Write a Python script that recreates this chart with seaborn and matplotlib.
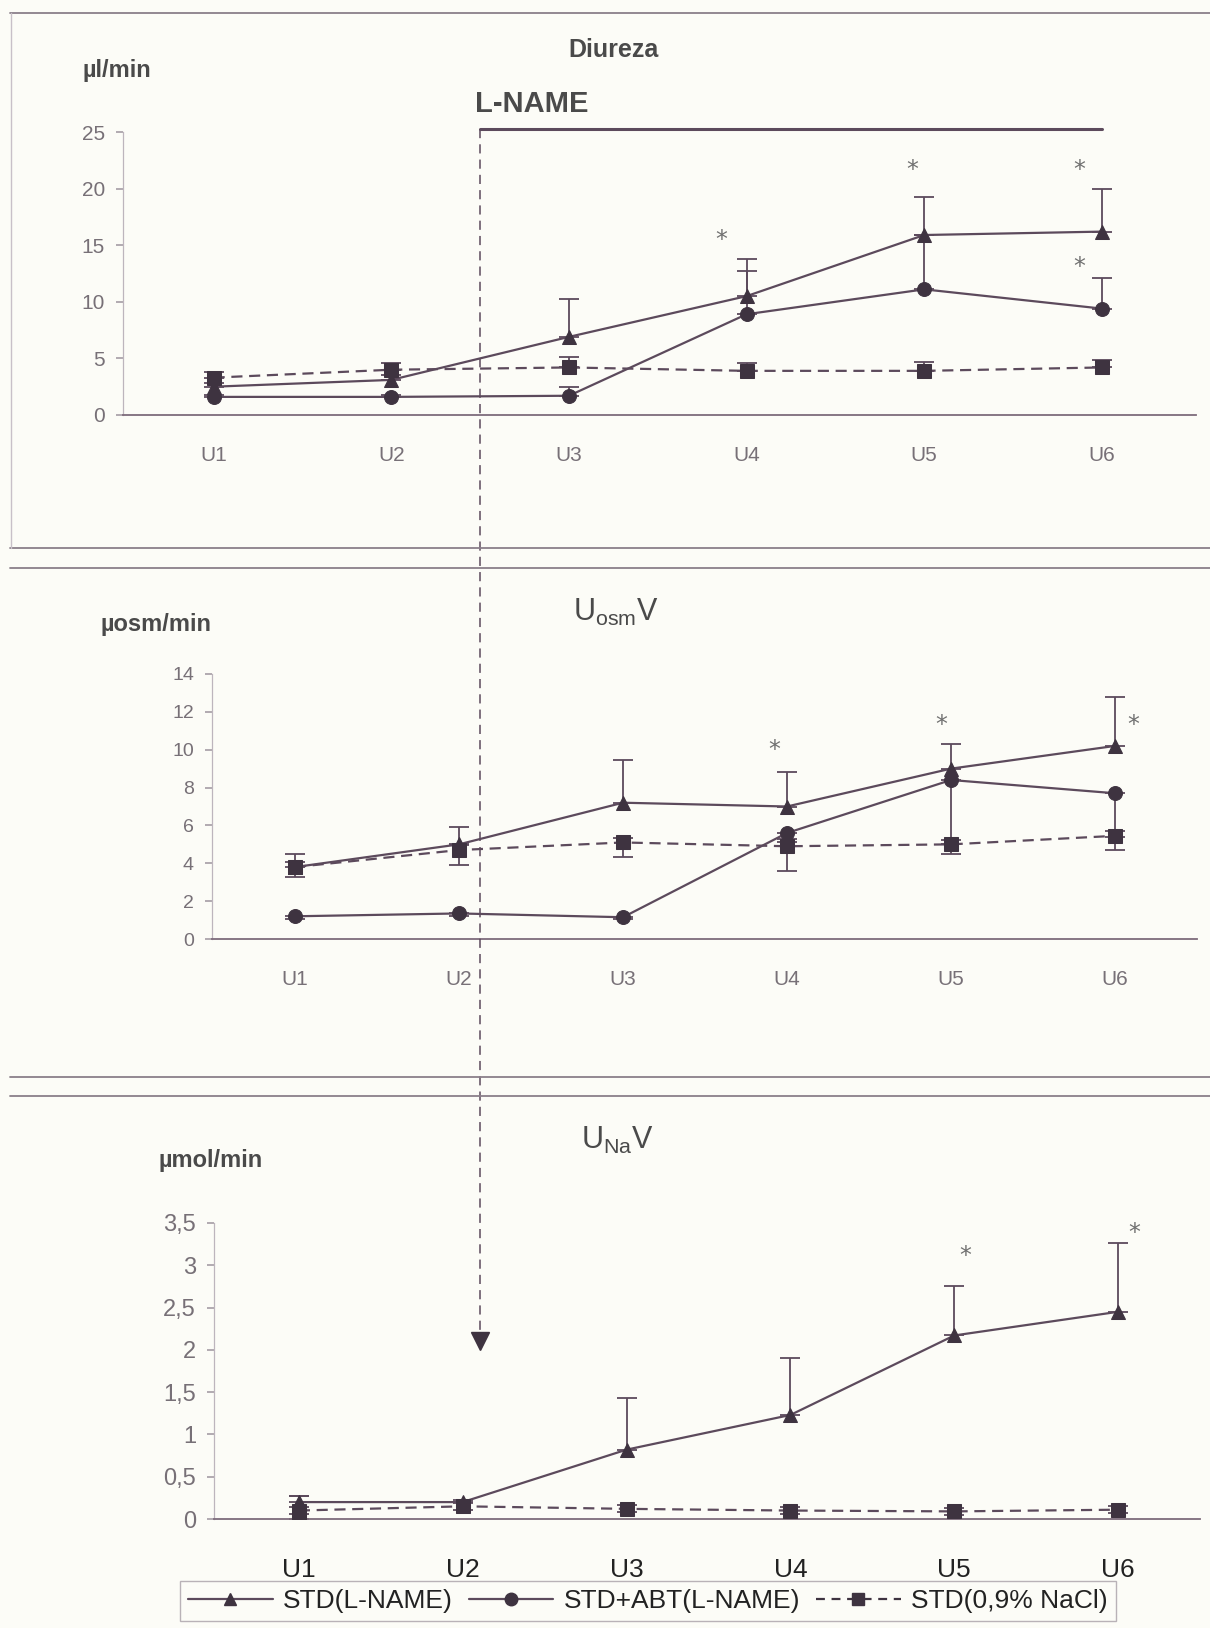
import numpy as np
import pandas as pd
import matplotlib
matplotlib.use("Agg")
import matplotlib.pyplot as plt
from matplotlib.lines import Line2D
import seaborn as sns

# ---------------- data ----------------
categories = ["U1", "U2", "U3", "U4", "U5", "U6"]
series_names = ["STD(L-NAME)", "STD+ABT(L-NAME)", "STD(0,9% NaCl)"]

# Diureza (µl/min)
diu_tri = [2.5, 3.1, 6.9, 10.5, 15.9, 16.2]
diu_tri_up = [0.3, 0.4, 3.35, 3.3, 3.4, 3.8]
diu_circ = [1.6, 1.6, 1.7, 8.9, 11.1, 9.4]
diu_circ_up = [0.2, 0.2, 0.8, 3.8, 4.8, 2.7]
diu_sq = [3.3, 4.0, 4.2, 3.9, 3.9, 4.2]
diu_sq_up = [0.5, 0.6, 0.9, 0.7, 0.8, 0.7]

# UosmV (µosm/min)
osm_tri = [3.8, 5.0, 7.2, 7.0, 9.0, 10.2]
osm_tri_up = [0.7, 0.9, 2.25, 1.8, 1.3, 2.6]
osm_circ = [1.2, 1.35, 1.15, 5.6, 8.4, 7.7]
osm_circ_lo = [0.15, 0.15, 0.1, 0.3, 3.4, 2.3]
osm_sq = [3.8, 4.7, 5.1, 4.9, 5.0, 5.45]
osm_sq_lo = [0.5, 0.8, 0.75, 1.3, 0.5, 0.75]

# UNaV (µmol/min)
na_tri = [0.2, 0.2, 0.82, 1.23, 2.17, 2.45]
na_tri_up = [0.07, 0.02, 0.61, 0.67, 0.58, 0.81]
na_circ = [0.0, np.nan, np.nan, np.nan, np.nan, np.nan]
na_circ_up = [0.27, 0, 0, 0, 0, 0]
na_sq = [0.1, 0.15, 0.12, 0.1, 0.09, 0.11]
na_sq_up = [0.04, 0.04, 0.04, 0.04, 0.04, 0.04]

# significance marks (x position in category units, y value)
diu_star_x = [2.86, 3.93, 4.87, 4.87]
diu_star_y = [15.5, 21.6, 21.6, 13.1]
osm_star_x = [2.92, 3.94, 5.11]
osm_star_y = [10.0, 11.3, 11.3]
na_star_x = [4.07, 5.10]
na_star_y = [3.11, 3.38]

# ---------------- style ----------------
sns.set_theme(style="white")
plt.rcParams["font.family"] = ["Liberation Sans Narrow", "Liberation Sans", "DejaVu Sans"]
plt.rcParams["mathtext.fontset"] = "custom"
plt.rcParams["mathtext.rm"] = "Liberation Sans"
plt.rcParams["mathtext.it"] = "Liberation Sans"

BG = "#fcfcf7"
LINE = "#5c4a5c"
MARK = "#3e3340"
TICK = "#777077"
TXT = "#4a4a4a"

W, H = 1210, 1628
fig = plt.figure(figsize=(W / 100, H / 100), dpi=100, facecolor=BG)


def fr(x0, y0, x1, y1):
    return [x0 / W, 1 - y1 / H, (x1 - x0) / W, (y1 - y0) / H]


ax1 = fig.add_axes(fr(123, 132, 1196, 415))
ax2 = fig.add_axes(fr(212, 674, 1197, 939))
ax3 = fig.add_axes(fr(214, 1223, 1200, 1519))

palette = {n: LINE for n in series_names}
markers = {series_names[0]: "^", series_names[1]: "o", series_names[2]: "s"}
dashes = {series_names[0]: "", series_names[1]: "", series_names[2]: (5, 3)}


def panel(ax, tri, circ, sq, errs, xlim, ylim, yticks, ylabels, tsize, xsize, xcol, stars):
    xs = np.arange(len(categories))
    df = pd.DataFrame({
        "x": np.tile(xs, 3),
        "val": list(tri) + list(circ) + list(sq),
        "grp": np.repeat(series_names, len(categories)),
    })
    for vals, lo, up in errs:
        ax.errorbar(xs, vals, yerr=[lo, up], fmt="none", ecolor=LINE,
                    elinewidth=1.3, capsize=7, capthick=1.3, zorder=2)
    sns.lineplot(data=df, x="x", y="val", hue="grp", style="grp",
                 palette=palette, markers=markers, dashes=dashes,
                 markersize=10, linewidth=1.6, markeredgecolor=MARK,
                 markerfacecolor=MARK, legend=False, ax=ax, zorder=3)
    ax.set_xlim(*xlim)
    ax.set_ylim(*ylim)
    ax.set_facecolor("none")
    ax.set_xlabel("")
    ax.set_ylabel("")
    ax.set_xticks(xs)
    ax.set_xticklabels(categories, fontsize=xsize, color=xcol)
    ax.set_xticks(np.arange(-0.5, 5.6, 1.0), minor=True)
    ax.set_yticks(yticks)
    ax.set_yticklabels(ylabels, fontsize=tsize, color=TICK)
    ax.tick_params(axis="x", which="major", length=0, pad=22)
    ax.tick_params(axis="x", which="minor", length=5, color="#b0a8b0", direction="out")
    ax.tick_params(axis="y", length=5, color="#a8a0a8", direction="out", pad=8, left=True)
    for s in ["top", "right"]:
        ax.spines[s].set_visible(False)
    ax.spines["left"].set_color("#bdb5bd")
    ax.spines["left"].set_linewidth(0.9)
    ax.spines["bottom"].set_color("#7d6b7b")
    ax.spines["bottom"].set_linewidth(1.3)
    ax.grid(False)
    for sx, sy in zip(*stars):
        ax.text(sx, sy, "*", ha="center", va="center", fontsize=17,
                color="#707070", family="DejaVu Sans")


panel(ax1, diu_tri, diu_circ, diu_sq,
      [(diu_tri, [0] * 6, diu_tri_up), (diu_circ, [0] * 6, diu_circ_up),
       (diu_sq, [0] * 6, diu_sq_up)],
      (-0.51, 5.53), (0, 25), [0, 5, 10, 15, 20, 25],
      ["0", "5", "10", "15", "20", "25"], 15, 15, TICK,
      (diu_star_x, diu_star_y))

panel(ax2, osm_tri, osm_circ, osm_sq,
      [(osm_tri, [0] * 6, osm_tri_up), (osm_circ, osm_circ_lo, [0] * 6),
       (osm_sq, osm_sq_lo, [0.25] * 6)],
      (-0.506, 5.5), (0, 14), [0, 2, 4, 6, 8, 10, 12, 14],
      ["0", "2", "4", "6", "8", "10", "12", "14"], 14, 15, TICK,
      (osm_star_x, osm_star_y))

panel(ax3, na_tri, na_circ, na_sq,
      [(na_tri, [0] * 6, na_tri_up), (na_circ, [0] * 6, na_circ_up),
       (na_sq, na_sq_up, na_sq_up)],
      (-0.518, 5.49), (0, 3.5), [0, 0.5, 1, 1.5, 2, 2.5, 3, 3.5],
      ["0", "0,5", "1", "1,5", "2", "2,5", "3", "3,5"], 17, 19, "#222222",
      (na_star_x, na_star_y))
ax3.tick_params(axis="x", which="major", pad=28)

# ---------------- titles & units ----------------
fig.text(613 / W, 1 - 50 / H, "Diureza", ha="center", va="center",
         fontsize=18, fontweight="bold", color=TXT, family="Liberation Sans")
fig.text(83 / W, 1 - 70 / H, "µl/min", ha="left", va="center",
         fontsize=17, fontweight="bold", color=TXT, family="Liberation Sans")
fig.text(475 / W, 1 - 104 / H, "L-NAME", ha="left", va="center",
         fontsize=21, fontweight="bold", color=TXT, family="Liberation Sans")
fig.text(616 / W, 1 - 612 / H, r"$\mathregular{U_{osm}V}$", ha="center", va="center",
         fontsize=22, color=TXT)
fig.text(100 / W, 1 - 625 / H, "µosm/min", ha="left", va="center",
         fontsize=17, fontweight="bold", color=TXT, family="Liberation Sans")
fig.text(617 / W, 1 - 1140 / H, r"$\mathregular{U_{Na}V}$", ha="center", va="center",
         fontsize=22, color=TXT)
fig.text(158 / W, 1 - 1160 / H, "µmol/min", ha="left", va="center",
         fontsize=17, fontweight="bold", color=TXT, family="Liberation Sans")

# ---------------- L-NAME bar and dashed arrow ----------------
ax1.plot([1.5, 5.0], [25.3, 25.3], color=LINE, lw=2.2, clip_on=False, zorder=5)
inv = fig.transFigure.inverted()
x_top, y_top = inv.transform(ax1.transData.transform((1.5, 25.3)))
_, y_tip = inv.transform(ax3.transData.transform((0, 2.0)))
_, y_head = inv.transform(ax3.transData.transform((0, 2.2)))
fig.add_artist(Line2D([x_top, x_top], [y_top, y_head], transform=fig.transFigure,
                      color=LINE, lw=1.1, ls=(0, (6, 4))))
fig.add_artist(Line2D([x_top], [(y_tip + y_head) / 2], transform=fig.transFigure,
                      marker="v", markersize=13, color=MARK, ls="none"))

# ---------------- panel borders ----------------
for yy in [13, 548, 568, 1077, 1096]:
    fig.add_artist(Line2D([10 / W, 1], [1 - yy / H, 1 - yy / H], transform=fig.transFigure,
                          color="#8a7f8a", lw=1.3))
fig.add_artist(Line2D([11 / W, 11 / W], [1 - 13 / H, 1 - 548 / H], transform=fig.transFigure,
                      color="#c8c0c8", lw=1.0))

# ---------------- legend ----------------
handles = [
    Line2D([], [], color=LINE, lw=1.6, marker="^", markersize=9, markerfacecolor=MARK,
           markeredgecolor=MARK),
    Line2D([], [], color=LINE, lw=1.6, marker="o", markersize=9, markerfacecolor=MARK,
           markeredgecolor=MARK),
    Line2D([], [], color=MARK, lw=1.6, ls=(0, (4, 3)), marker="s", markersize=9,
           markerfacecolor=MARK, markeredgecolor=MARK),
]
leg = fig.legend(handles, series_names, loc="center", bbox_to_anchor=(648 / W, 1 - 1601 / H),
                 ncol=3, frameon=True, handlelength=3.2, columnspacing=0.6,
                 handletextpad=0.4, borderpad=0.3, fancybox=False,
                 prop={"family": "Liberation Sans", "size": 19})
leg.get_frame().set_edgecolor("#a8a0a8")
leg.get_frame().set_linewidth(1.0)
leg.get_frame().set_facecolor(BG)
for t in leg.get_texts():
    t.set_color("#222222")

fig.savefig("out.png", dpi=100, facecolor=BG)
